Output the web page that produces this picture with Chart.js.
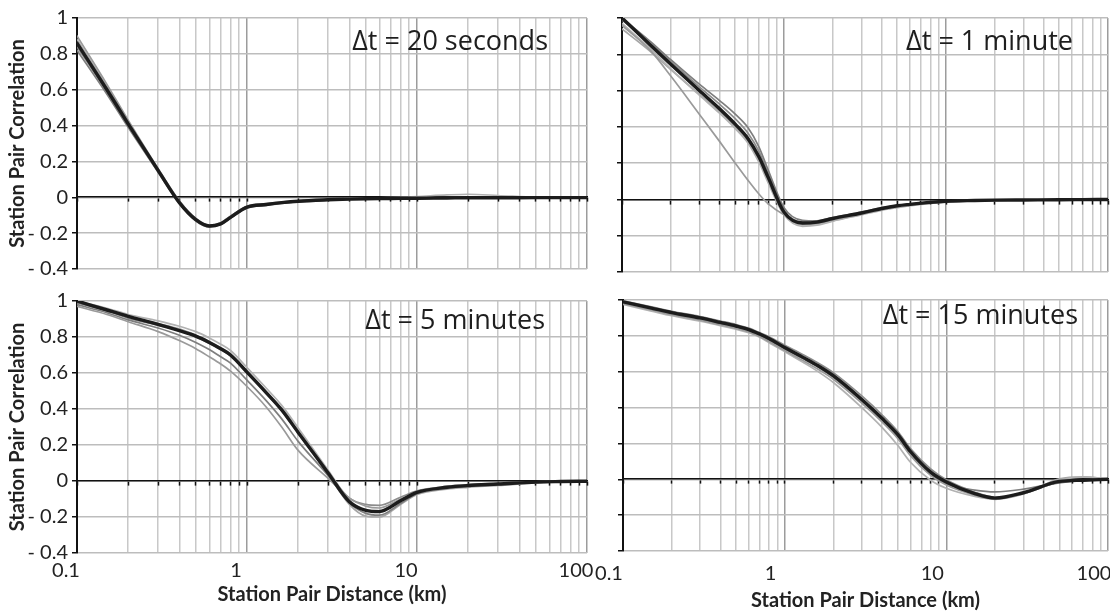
<!DOCTYPE html>
<html>
<head>
<meta charset="utf-8">
<script src="https://cdn.jsdelivr.net/npm/chart.js@4.4.1/dist/chart.umd.min.js"></script>
<style>
  body { margin: 0; background: #fff; width: 1110px; height: 613px; overflow: hidden; position: relative; }
  canvas { position: absolute; }
</style>
</head>
<body>
<canvas id="p20s" width="600" height="285" style="left:0;top:0"></canvas>
<canvas id="p1m" width="510" height="285" style="left:600px;top:0"></canvas>
<canvas id="p5m" width="595" height="328" style="left:0;top:285px"></canvas>
<canvas id="p15m" width="515" height="328" style="left:595px;top:285px"></canvas>
<script>
// distances (km) at which the curves are read
const distKm = [0.1, 0.15, 0.2, 0.3, 0.4, 0.5, 0.6, 0.7, 0.8, 1, 1.3, 1.6, 2, 3, 4, 5, 6, 8, 10, 15, 20, 30, 50, 70, 100];

// gridlines / tick labels
const distTicks = [0.1, 0.2, 0.3, 0.4, 0.5, 0.6, 0.7, 0.8, 0.9, 1, 2, 3, 4, 5, 6, 7, 8, 9, 10, 20, 30, 40, 50, 60, 70, 80, 90, 100];
const decadeTicks = [0.1, 1, 10, 100];
const decadeLabels = ["0.1", "1", "10", "100"];
const corrTicks = [-0.4, -0.2, 0, 0.2, 0.4, 0.6, 0.8, 1];
const corrLabels = ["- 0.4", "- 0.2", "0", "0.2", "0.4", "0.6", "0.8", "1"];

const panelTitles = ["\u0394t = 20 seconds", "\u0394t = 1 minute", "\u0394t = 5 minutes", "\u0394t = 15 minutes"];

// dt = 20 s
const mean20s = [0.86, 0.60, 0.41, 0.15, -0.03, -0.125, -0.16, -0.148, -0.112, -0.055, -0.04, -0.03, -0.022, -0.014, -0.01, -0.008, -0.007, -0.006, -0.005, -0.004, -0.003, -0.003, -0.002, -0.002, -0.002];
const pairs20s = [
  [0.90, 0.63, 0.43, 0.16, -0.02, -0.118, -0.155, -0.142, -0.105, -0.05, -0.035, -0.027, -0.02, -0.012, -0.008, -0.006, -0.005, -0.004, -0.003, -0.002, -0.002, -0.002, -0.001, -0.001, -0.001],
  [0.82, 0.575, 0.39, 0.14, -0.035, -0.132, -0.165, -0.152, -0.116, -0.06, -0.045, -0.034, -0.025, -0.016, -0.012, -0.01, -0.009, -0.008, -0.007, -0.005, -0.004, -0.003, -0.003, -0.002, -0.002],
  [0.87, 0.61, 0.42, 0.155, -0.025, -0.122, -0.158, -0.144, -0.108, -0.05, -0.037, -0.028, -0.02, -0.012, -0.008, -0.005, -0.003, 0.0, 0.004, 0.013, 0.017, 0.01, 0.0, -0.002, -0.002],
  [0.84, 0.59, 0.40, 0.145, -0.032, -0.128, -0.163, -0.15, -0.114, -0.058, -0.042, -0.032, -0.024, -0.015, -0.011, -0.009, -0.008, -0.007, -0.006, -0.005, -0.004, -0.003, -0.002, -0.002, -0.002],
  [0.88, 0.615, 0.42, 0.152, -0.028, -0.13, -0.16, -0.145, -0.106, -0.052, -0.038, -0.03, -0.021, -0.013, -0.009, -0.007, -0.006, -0.005, -0.004, -0.003, -0.003, -0.002, -0.002, -0.001, -0.001]
];

// dt = 1 min
const mean1m = [1.0, 0.85, 0.745, 0.60, 0.50, 0.415, 0.335, 0.235, 0.12, -0.07, -0.13, -0.125, -0.105, -0.075, -0.05, -0.035, -0.027, -0.016, -0.01, -0.006, -0.004, -0.003, -0.002, -0.001, 0];
const pairs1m = [
  [0.96, 0.82, 0.68, 0.47, 0.32, 0.20, 0.105, 0.03, -0.025, -0.085, -0.13, -0.128, -0.112, -0.08, -0.055, -0.04, -0.03, -0.018, -0.012, -0.007, -0.005, -0.003, -0.002, -0.001, 0],
  [1.0, 0.87, 0.77, 0.635, 0.545, 0.47, 0.395, 0.29, 0.16, -0.045, -0.115, -0.118, -0.1, -0.07, -0.047, -0.033, -0.025, -0.015, -0.009, -0.005, -0.004, -0.003, -0.002, -0.001, 0],
  [0.97, 0.83, 0.72, 0.575, 0.475, 0.39, 0.31, 0.205, 0.09, -0.085, -0.148, -0.142, -0.12, -0.085, -0.06, -0.045, -0.034, -0.022, -0.014, -0.008, -0.005, -0.003, -0.002, -0.001, 0],
  [0.99, 0.86, 0.76, 0.62, 0.525, 0.445, 0.365, 0.265, 0.14, -0.06, -0.125, -0.122, -0.108, -0.078, -0.052, -0.038, -0.03, -0.018, -0.011, -0.006, -0.004, -0.003, -0.002, -0.001, 0],
  [0.94, 0.815, 0.715, 0.58, 0.485, 0.40, 0.32, 0.22, 0.105, -0.075, -0.14, -0.135, -0.118, -0.082, -0.057, -0.042, -0.032, -0.02, -0.013, -0.007, -0.005, -0.003, -0.002, -0.001, 0]
];

// dt = 5 min
const mean5m = [1.0, 0.95, 0.915, 0.87, 0.835, 0.805, 0.77, 0.735, 0.70, 0.605, 0.49, 0.395, 0.27, 0.045, -0.115, -0.163, -0.17, -0.11, -0.063, -0.035, -0.025, -0.017, -0.006, -0.003, -0.001];
const pairs5m = [
  [0.97, 0.925, 0.885, 0.83, 0.78, 0.735, 0.69, 0.65, 0.61, 0.525, 0.41, 0.30, 0.17, 0.015, -0.095, -0.14, -0.15, -0.1, -0.065, -0.04, -0.03, -0.02, -0.008, -0.004, -0.001],
  [0.98, 0.935, 0.895, 0.85, 0.81, 0.77, 0.73, 0.69, 0.655, 0.56, 0.445, 0.345, 0.22, 0.03, -0.12, -0.18, -0.19, -0.125, -0.07, -0.04, -0.028, -0.018, -0.007, -0.003, -0.001],
  [1.0, 0.96, 0.925, 0.89, 0.86, 0.83, 0.795, 0.76, 0.725, 0.63, 0.515, 0.42, 0.295, 0.06, -0.105, -0.16, -0.165, -0.105, -0.06, -0.032, -0.022, -0.015, -0.005, -0.002, 0],
  [0.99, 0.945, 0.905, 0.865, 0.835, 0.80, 0.765, 0.73, 0.695, 0.60, 0.485, 0.39, 0.265, 0.045, -0.095, -0.13, -0.135, -0.09, -0.055, -0.03, -0.02, -0.013, -0.005, -0.002, 0],
  [1.0, 0.955, 0.915, 0.875, 0.845, 0.81, 0.775, 0.74, 0.705, 0.61, 0.495, 0.40, 0.275, 0.04, -0.13, -0.195, -0.2, -0.13, -0.075, -0.045, -0.035, -0.025, -0.01, -0.004, -0.001]
];

// dt = 15 min
const mean15m = [0.99, 0.955, 0.93, 0.90, 0.875, 0.855, 0.835, 0.81, 0.785, 0.735, 0.68, 0.635, 0.578, 0.445, 0.34, 0.25, 0.155, 0.04, -0.015, -0.08, -0.105, -0.075, -0.012, -0.005, 0];
const pairs15m = [
  [0.98, 0.945, 0.918, 0.888, 0.862, 0.842, 0.822, 0.797, 0.768, 0.718, 0.662, 0.615, 0.558, 0.425, 0.32, 0.228, 0.132, 0.022, -0.032, -0.088, -0.108, -0.078, -0.014, -0.005, 0],
  [0.985, 0.95, 0.925, 0.895, 0.87, 0.85, 0.83, 0.805, 0.778, 0.728, 0.672, 0.628, 0.57, 0.437, 0.332, 0.242, 0.145, 0.032, -0.025, -0.06, -0.07, -0.055, -0.02, -0.006, 0],
  [0.975, 0.938, 0.912, 0.882, 0.857, 0.837, 0.817, 0.792, 0.762, 0.712, 0.652, 0.602, 0.54, 0.40, 0.29, 0.19, 0.095, -0.005, -0.05, -0.095, -0.11, -0.08, -0.005, 0.012, 0.002],
  [0.995, 0.962, 0.937, 0.908, 0.883, 0.863, 0.843, 0.818, 0.795, 0.748, 0.695, 0.65, 0.595, 0.465, 0.36, 0.268, 0.172, 0.058, -0.003, -0.072, -0.1, -0.078, -0.015, -0.006, 0],
  [0.985, 0.95, 0.925, 0.895, 0.87, 0.85, 0.83, 0.805, 0.775, 0.73, 0.675, 0.63, 0.572, 0.44, 0.335, 0.245, 0.148, 0.04, -0.02, -0.088, -0.112, -0.082, 0.002, 0.014, 0.002]
];

const grayShades = ["#9a9a9a", "#7e7e7e", "#b2b2b2", "#8c8c8c", "#a6a6a6"];

// draws the "Δt = ..." text inside the plot
const panelLabel = {
  id: "panelLabel",
  beforeDatasetsDraw(chart, args, o) {
    const { ctx, chartArea } = chart;
    ctx.save();
    ctx.font = '27px "Open Sans"';
    ctx.fillStyle = "#1e1e1e";
    ctx.textAlign = "right";
    ctx.textBaseline = "middle";
    ctx.fillText(o.text, chartArea.right - o.dx, chartArea.top + o.dy);
    ctx.restore();
  }
};

function isDecade(v) {
  const l = Math.log10(v);
  return Math.abs(l - Math.round(l)) < 1e-9;
}

function toPoints(vals) {
  return distKm.map((d, i) => ({ x: d, y: vals[i] }));
}

function makePanel(id, title, mean, pairs, o) {
  const datasets = [{
    data: toPoints(mean),
    borderColor: "#1c1c1c",
    borderWidth: 3.4
  }];
  pairs.forEach((p, i) => {
    datasets.push({ data: toPoints(p), borderColor: grayShades[i % grayShades.length], borderWidth: 1.7 });
  });

  new Chart(document.getElementById(id), {
    type: "line",
    data: { datasets },
    plugins: [panelLabel],
    options: {
      responsive: false,
      animation: false,
      devicePixelRatio: 1,
      layout: { padding: { top: o.padTop, right: o.padRight, left: 0, bottom: 0 } },
      elements: {
        point: { radius: 0 },
        line: { cubicInterpolationMode: "monotone", borderJoinStyle: "round", borderCapStyle: "round" }
      },
      plugins: {
        legend: { display: false },
        tooltip: { enabled: false },
        panelLabel: { text: title, dx: o.titleDx, dy: o.titleDy }
      },
      scales: {
        x: {
          type: "logarithmic",
          min: 0.1,
          max: 100,
          afterBuildTicks: s => { s.ticks = distTicks.map(v => ({ value: v, major: isDecade(v) })); },
          afterFit: s => { s.height = o.xHeight; s.paddingLeft = 0; s.paddingRight = 0; },
          grid: {
            drawTicks: false,
            lineWidth: 1.5,
            color: c => (c.tick && isDecade(c.tick.value)) ? "#9c9c9c" : "#c8c8c8"
          },
          border: { display: false },
          ticks: {
            display: o.xLabels,
            autoSkip: false,
            maxRotation: 0,
            padding: o.xTickPad,
            labelOffset: o.labelOffset,
            color: "#222",
            font: { family: "Lato", size: 20 },
            callback: v => {
              const k = decadeTicks.findIndex(d => Math.abs(d - v) < 1e-9);
              return k >= 0 ? decadeLabels[k] : "";
            }
          },
          title: {
            display: o.xLabels,
            text: "Station Pair Distance (km)",
            color: "#222",
            font: { family: "Lato", size: 20, weight: "bold" },
            padding: { top: 0, bottom: o.xTitlePad }
          }
        },
        xz: {
          axis: "x",
          type: "logarithmic",
          position: { y: 0 },
          min: 0.1,
          max: 100,
          afterBuildTicks: s => { s.ticks = distTicks.map(v => ({ value: v })); },
          grid: { drawOnChartArea: false, drawTicks: true, tickLength: 4, tickColor: "#111", tickWidth: 1.5 },
          border: { color: "#111", width: 1.6 },
          ticks: { display: false }
        },
        y: {
          min: -0.4,
          max: 1,
          afterBuildTicks: s => { s.ticks = corrTicks.map(v => ({ value: v })); },
          afterFit: s => { s.width = o.yWidth; },
          grid: { color: "#bdbdbd", lineWidth: 1.5, tickColor: "#111", tickLength: 5, tickWidth: 1.5 },
          border: { color: "#111", width: 2 },
          ticks: {
            display: o.yLabels,
            padding: 4,
            color: "#222",
            font: { family: "Lato", size: 20 },
            callback: (v, i) => corrLabels[i]
          },
          title: {
            display: o.yLabels,
            text: "Station Pair Correlation",
            color: "#222",
            font: { family: "Lato", size: 20, weight: "bold" },
            padding: { top: 6, bottom: 0 }
          }
        }
      }
    }
  });
}

makePanel("p20s", panelTitles[0], mean20s, pairs20s,
  { padTop: 18, padRight: 13, yWidth: 77, xHeight: 13, yLabels: true, xLabels: false, titleDx: 39, titleDy: 24, labelOffset: 0, xTickPad: 0, xTitlePad: 0 });
makePanel("p1m", panelTitles[1], mean1m, pairs1m,
  { padTop: 18, padRight: 2, yWidth: 22, xHeight: 13, yLabels: false, xLabels: false, titleDx: 35, titleDy: 24, labelOffset: 0, xTickPad: 0, xTitlePad: 0 });
makePanel("p5m", panelTitles[2], mean5m, pairs5m,
  { padTop: 11, padRight: 8, yWidth: 77, xHeight: 60, yLabels: true, xLabels: true, titleDx: 42, titleDy: 20, labelOffset: -11, xTickPad: 6, xTitlePad: 6 });
makePanel("p15m", panelTitles[3], mean15m, pairs15m,
  { padTop: 15, padRight: 2, yWidth: 28, xHeight: 62, yLabels: false, xLabels: true, titleDx: 30, titleDy: 16, labelOffset: -14, xTickPad: 11, xTitlePad: 0 });
</script>
</body>
</html>
